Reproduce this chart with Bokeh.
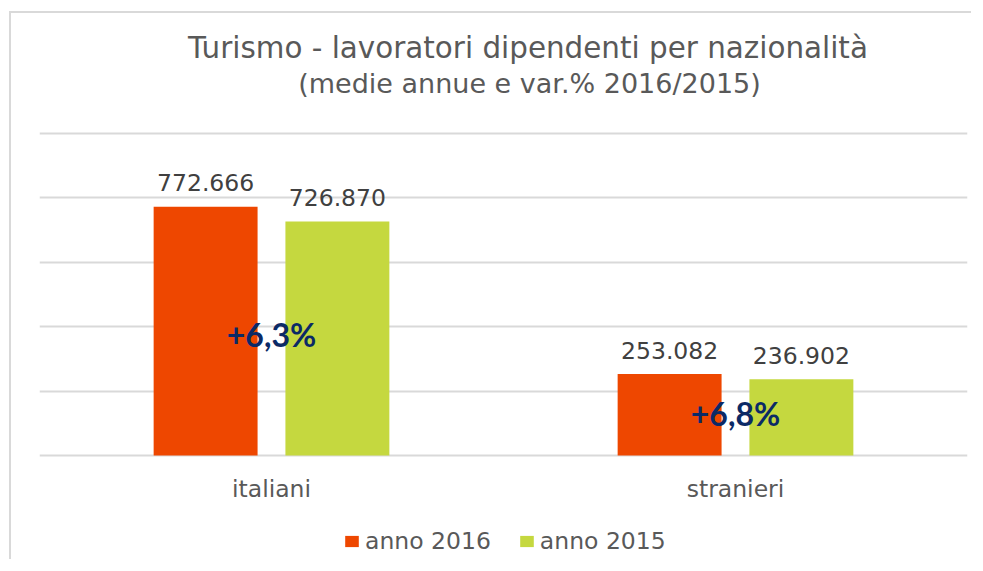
from bokeh.plotting import figure
from bokeh.models import (Range1d, FactorRange, FixedTicker, Label, Legend,
                          LegendItem, ColumnDataSource)
from bokeh.transform import dodge
from bokeh.core.properties import value
from bokeh.embed import file_html
from bokeh.resources import INLINE

# ---------------- data ----------------
categories = ["italiani", "stranieri"]
series_names = ["anno 2016", "anno 2015"]
anno_2016 = [772666, 253082]
anno_2015 = [726870, 236902]
y_ticks = [0, 200000, 400000, 600000, 800000, 1000000]
title_text = "Turismo - lavoratori dipendenti per nazionalità"
subtitle_text = "(medie annue e var.% 2016/2015)"

# ---------------- styles ----------------
RED = "#EE4700"
GREEN = "#C5D83F"
GRID = "#D9D9D9"
TXT = "#595959"
LBL = "#404040"
NAVY = "#0B2A66"
FONT = "DejaVu Sans"

def it_num(v):
    return f"{v:,}".replace(",", ".")

var_pct = [(a / b - 1) * 100 for a, b in zip(anno_2016, anno_2015)]
var_labels = ["+" + f"{v:.1f}".replace(".", ",") + "%" for v in var_pct]
var_y = [b * 0.5 for b in anno_2015]

src = ColumnDataSource(dict(
    cat=categories,
    a2016=anno_2016,
    a2015=anno_2015,
    l2016=[it_num(v) for v in anno_2016],
    l2015=[it_num(v) for v in anno_2015],
    var_lbl=var_labels,
    var_y=var_y,
    zero=[0] * len(categories),
))

W, H = 962, 548
BASE = 442            # canvas y of the zero line
PX = 64.4 / 200000    # pixels per unit
Y0 = -(H - BASE) / PX
Y1 = BASE / PX
FRAME_W = 928

def y_at(canvas_y):
    return (BASE - canvas_y) / PX

def x_at(frame_x):
    return frame_x / (FRAME_W / len(categories))

p = figure(
    x_range=FactorRange(factors=categories, range_padding=0),
    y_range=Range1d(Y0, Y1),
    width=W, height=H,
    output_backend="svg", toolbar_location=None,
    y_axis_location=None, x_axis_location=None,
    min_border_left=28, min_border_right=W - 28 - FRAME_W,
    min_border_top=0, min_border_bottom=0,
)
p.outline_line_color = None
p.background_fill_color = "white"
p.border_fill_color = "white"
p.styles = {"border-left": "2px solid #D9D9D9", "border-top": "2px solid #D9D9D9",
            "margin-left": "9px", "margin-top": "11px"}

p.xgrid.visible = False
p.ygrid.ticker = FixedTicker(ticks=y_ticks)
p.ygrid.grid_line_color = GRID
p.ygrid.grid_line_width = 2

OFF = 0.142
BW = 0.224
r1 = p.vbar(x=dodge("cat", -OFF, range=p.x_range), top="a2016", width=BW,
            source=src, fill_color=RED, line_color=None)
r2 = p.vbar(x=dodge("cat", OFF, range=p.x_range), top="a2015", width=BW,
            source=src, fill_color=GREEN, line_color=None)

p.text(x=dodge("cat", -OFF, range=p.x_range), y="a2016", text="l2016", source=src,
       y_offset=-24, text_align="center", text_baseline="alphabetic",
       text_font=value(FONT), text_font_size=value("23.5px"), text_color=LBL)
p.text(x=dodge("cat", OFF, range=p.x_range), y="a2015", text="l2015", source=src,
       y_offset=-24, text_align="center", text_baseline="alphabetic",
       text_font=value(FONT), text_font_size=value("23.5px"), text_color=LBL)

p.text(x="cat", y="var_y", text="var_lbl", source=src, y_offset=-4,
       text_align="center", text_baseline="middle",
       text_font=value("Lato"), text_font_style="bold",
       text_font_size=value("32px"), text_color=NAVY)

# category labels
p.text(x="cat", y="zero", text="cat", source=src, y_offset=33,
       text_align="center", text_baseline="alphabetic",
       text_font=value(FONT), text_font_size=value("23.5px"), text_color=TXT)

# titles
p.add_layout(Label(x=x_at(488.5), y=y_at(34), text=title_text,
                   text_align="center", text_baseline="alphabetic",
                   text_font=FONT, text_font_size="29.4px", text_color=TXT))
p.add_layout(Label(x=x_at(490), y=y_at(70), text=subtitle_text,
                   text_align="center", text_baseline="alphabetic",
                   text_font=FONT, text_font_size="27px", text_color=TXT))

legend = Legend(
    items=[LegendItem(label=series_names[0], renderers=[r1]),
           LegendItem(label=series_names[1], renderers=[r2])],
    orientation="horizontal", location=(304, 6),
    glyph_width=17, glyph_height=14, label_standoff=5, spacing=27,
    padding=0, margin=0, border_line_color=None, background_fill_alpha=0,
    label_text_font=FONT, label_text_font_size="23.5px", label_text_color=TXT,
)
p.add_layout(legend, "center")

open("out.html", "w").write(file_html(p, INLINE))
